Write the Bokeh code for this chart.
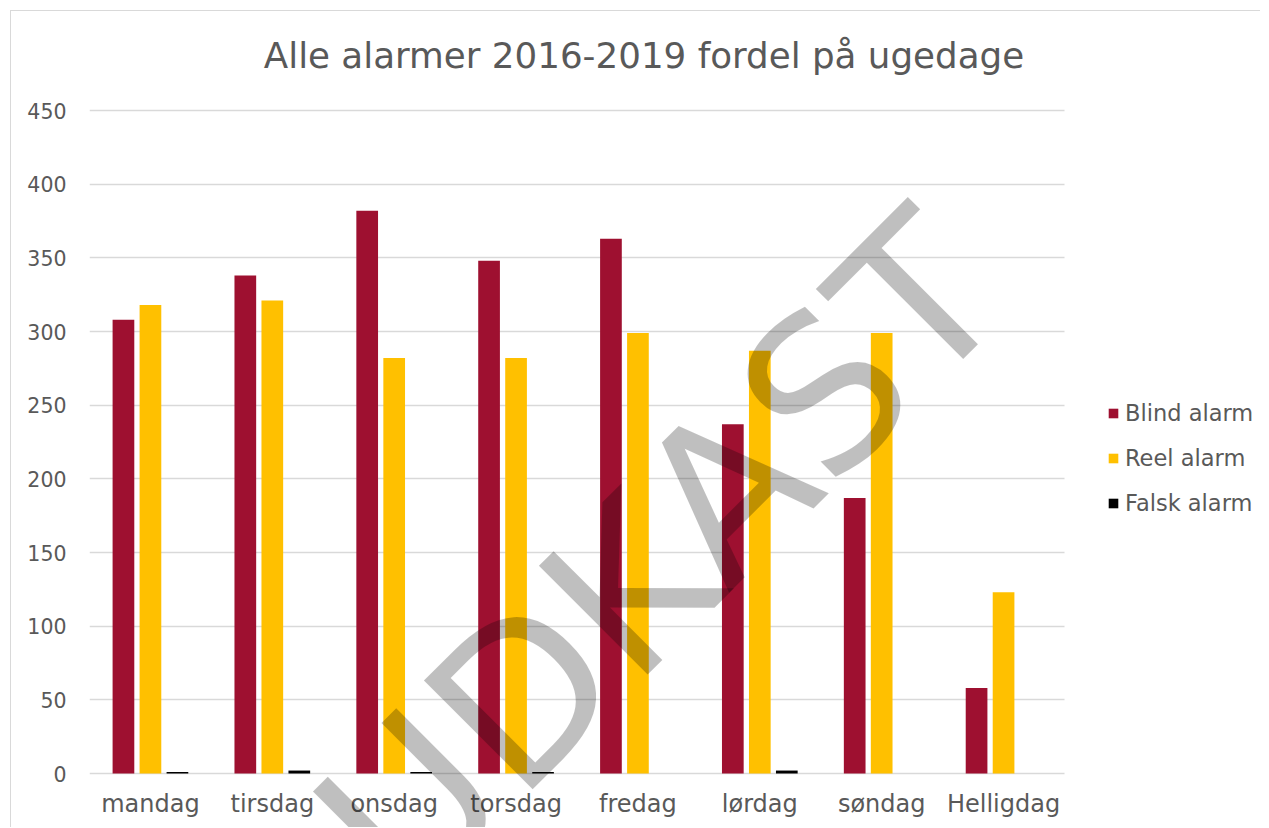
from bokeh.plotting import figure
from bokeh.models import (ColumnDataSource, Legend, LegendItem, Label,
                          FixedTicker, Range1d, LinearAxis)
from bokeh.embed import file_html
from bokeh.resources import INLINE
import math

categories = ["mandag", "tirsdag", "onsdag", "torsdag", "fredag", "lørdag", "søndag", "Helligdag"]
blind_alarm = [308, 338, 382, 348, 363, 237, 187, 58]
reel_alarm = [318, 321, 282, 282, 299, 287, 299, 123]
falsk_alarm = [1, 2, 1, 1, 0, 2, 0, 0]
series_names = ["Blind alarm", "Reel alarm", "Falsk alarm"]
y_ticks = [0, 50, 100, 150, 200, 250, 300, 350, 400, 450]
title_text = "Alle alarmer 2016-2019 fordel på ugedage"
watermark_text = "UDKAST"

FONT = "DejaVu Sans"
TXT = "#595959"
GRID = "#d9d9d9"
colors = ["#9e1030", "#ffc000", "#000000"]

n = len(categories)
centers = [i + 0.5 for i in range(n)]          # category slot centres on the x scale
off, bw = 0.2215, 0.178
src = ColumnDataSource(dict(
    x_blind=[c - off for c in centers], x_reel=centers, x_falsk=[c + off for c in centers],
    blind=blind_alarm, reel=reel_alarm, falsk=falsk_alarm))

W, H = 1250, 817
# the frame fills the canvas (apart from the y-axis labels) so that the title, legend and
# watermark are not clipped; the scales still put 0..450 and the 8 categories where they belong
px_per_unit = 663 / 450.0
slot = 121.875
p = figure(x_range=Range1d(0, (W - 78) / slot),
           y_range=Range1d(-(828 - 773) / px_per_unit, 450 + (110 - 11) / px_per_unit),
           width=W, height=H, output_backend="svg", toolbar_location=None,
           x_axis_location=None,
           min_border_left=78, min_border_right=0, min_border_top=0, min_border_bottom=0)
p.styles = {"margin-left": "10px", "margin-top": "10px",
            "border-left": "1px solid #d9d9d9", "border-top": "1px solid #d9d9d9"}
p.outline_line_color = None
p.background_fill_color = "white"
p.border_fill_color = "white"
p.xgrid.visible = False

ticker = FixedTicker(ticks=y_ticks)
p.yaxis.ticker = ticker
p.ygrid.ticker = ticker
p.ygrid.grid_line_color = GRID
p.ygrid.grid_line_width = 1.3
use_cross = True
try:
    p.ygrid.cross_bounds = (0, n)
except Exception:
    use_cross = False
if not use_cross:
    p.ygrid.visible = False
    p.segment(x0=0, x1=n, y0=y_ticks, y1=y_ticks, line_color=GRID, line_width=1.3)

r1 = p.vbar(x="x_blind", top="blind", width=bw, source=src, fill_color=colors[0], line_color=None)
r2 = p.vbar(x="x_reel", top="reel", width=bw, source=src, fill_color=colors[1], line_color=None)
r3 = p.vbar(x="x_falsk", top="falsk", width=bw, source=src, fill_color=colors[2], line_color=None)

p.yaxis.axis_line_color = None
p.yaxis.major_tick_line_color = None
p.yaxis.minor_tick_line_color = None
p.yaxis.major_tick_out = 0
p.yaxis.major_tick_in = 0
p.yaxis.major_label_standoff = 23
p.yaxis.major_label_text_font = FONT
p.yaxis.major_label_text_font_size = "20.5px"
p.yaxis.major_label_text_color = TXT

xaxis = LinearAxis(fixed_location=0, ticker=FixedTicker(ticks=centers),
                   major_label_overrides={c: name for c, name in zip(centers, categories)})
xaxis.axis_line_color = None
xaxis.major_tick_line_color = None
xaxis.minor_tick_line_color = None
xaxis.major_tick_out = 0
xaxis.major_tick_in = 0
xaxis.major_label_standoff = -44
xaxis.major_label_text_font = FONT
xaxis.major_label_text_font_size = "24px"
xaxis.major_label_text_color = TXT
p.add_layout(xaxis, "above")

legend = Legend(items=[LegendItem(label=series_names[0], renderers=[r1]),
                       LegendItem(label=series_names[1], renderers=[r2]),
                       LegendItem(label=series_names[2], renderers=[r3])],
                location=(1018, 312), orientation="vertical")
legend.glyph_width = 12
legend.glyph_height = 12
legend.label_standoff = 6
legend.label_height = 24
legend.spacing = 19
legend.padding = 0
legend.margin = 0
legend.border_line_color = None
legend.background_fill_alpha = 0
legend.label_text_font = FONT
legend.label_text_font_size = "22.5px"
legend.label_text_color = TXT
p.add_layout(legend)

title = Label(x=(643.5 - 89) / slot, y=(773 - 55) / px_per_unit, text=title_text,
              text_align="center", text_baseline="middle",
              text_font=FONT, text_font_size="35.7px", text_color=TXT)
p.add_layout(title)

wm = Label(x=(660.3 - 89) / slot, y=(773 - 557.5) / px_per_unit, text=watermark_text,
           angle=math.pi / 4, text_align="center", text_baseline="alphabetic",
           text_font=FONT, text_font_size="211px", text_color="black", text_alpha=0.25,
           level="overlay")
p.add_layout(wm)

open("out.html", "w").write(file_html(p, INLINE))
